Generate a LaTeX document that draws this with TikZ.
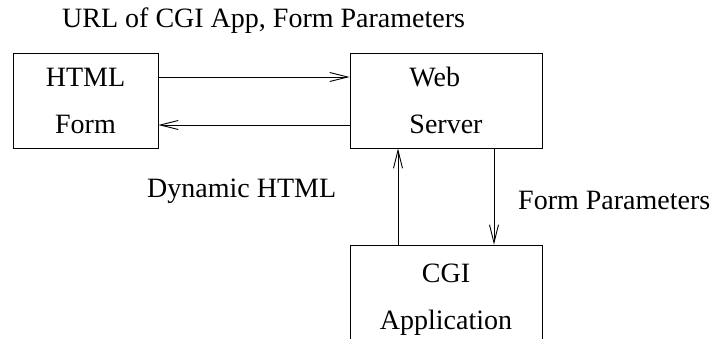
\documentclass[tikz,border=0pt]{standalone}
\usepackage{fontspec}
\setmainfont{Liberation Serif}
\usetikzlibrary{arrows.meta}
\begin{document}
\begin{tikzpicture}[x=1pt, y=-1pt,
    block/.style ={rectangle, draw, line width=0.9pt, inner sep=0pt,
                   font=\fontsize{28}{47}\selectfont},
    flow/.style ={line width=0.9pt, -{Straight Barb[length=18pt,width=9pt]}},
    caption/.style ={anchor=base west, inner sep=0pt, font=\fontsize{28}{34}\selectfont}]
   \useasboundingbox (0,0) rectangle (717,339);
   \clip (0,0) rectangle (717,339);

   \node[block, minimum width=145pt, minimum height=95pt, align=center] (form)   at (85.5,100.5) {HTML\\Form};
   \node[block, minimum width=192pt, minimum height=95pt, align=left]   (server) at (446,100.5)  {Web\\Server};
   \node[block, minimum width=192pt, minimum height=110pt, align=center] (app)   at (446,300)    {CGI\\Application};

   \coordinate (request)  at ([yshift=23.5pt]form.east);
   \coordinate (response) at ([yshift=-24.5pt]form.east);
   \coordinate (result)   at ([xshift=-48pt]app.north);
   \coordinate (params)   at ([xshift=48pt]app.north);

   \draw[flow] (request) to (request -| server.west);
   \draw[flow] (response -| server.west) to (response);
   \draw[flow] (result) to (result |- server.south);
   \draw[flow] (params |- server.south) to (params);

   \node[caption] (urllabel)     at (62,28)   {URL of CGI App, Form Parameters};
   \node[caption] (dynamiclabel) at (147,197) {Dynamic HTML};
   \node[caption] (paramlabel)   at (518,209) {Form Parameters};

 \end{tikzpicture}
\end{document}
